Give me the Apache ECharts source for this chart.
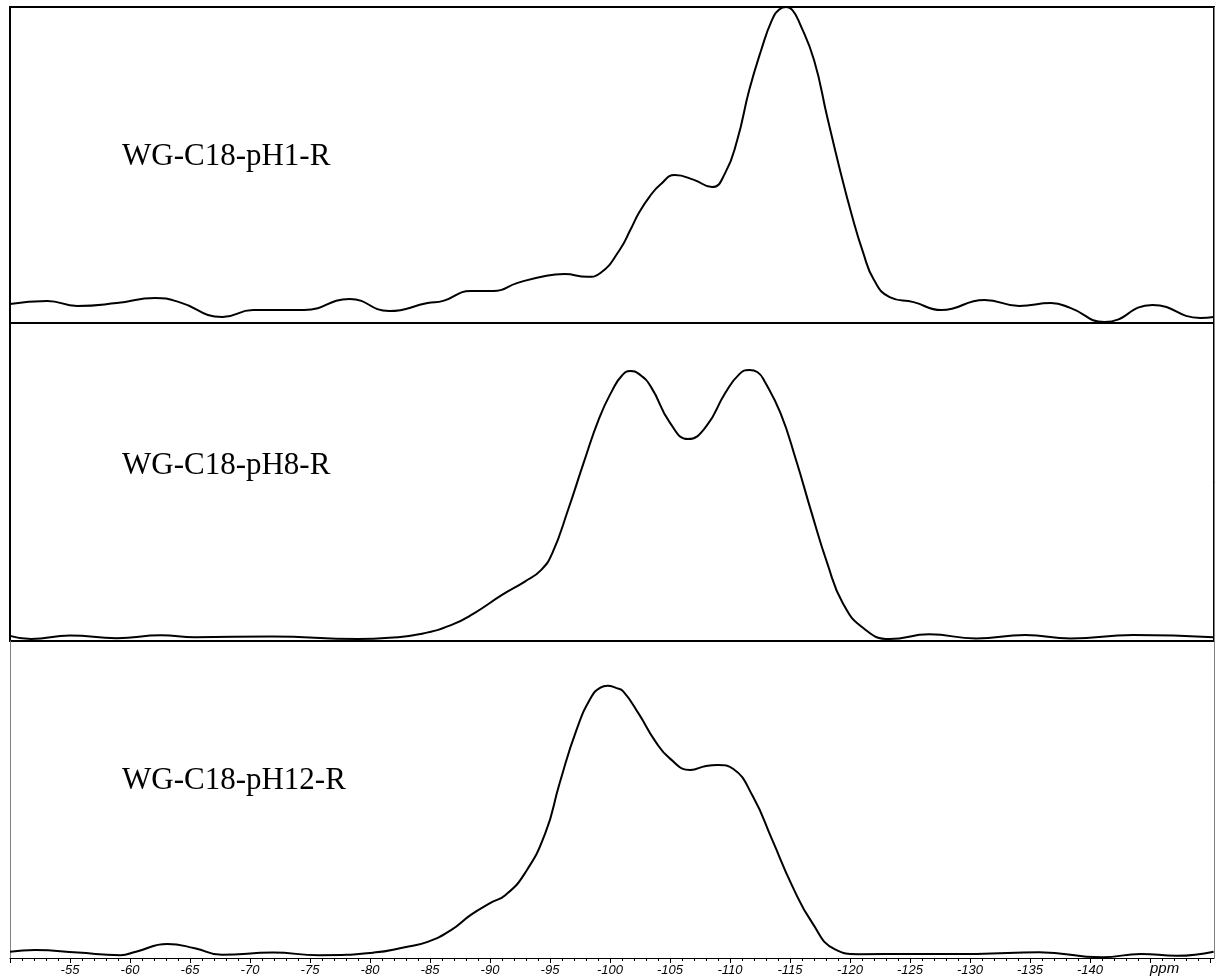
<!DOCTYPE html>
<html><head><meta charset="utf-8">
<script src="https://cdn.jsdelivr.net/npm/echarts@6/dist/echarts.min.js"></script>
<style>html,body{margin:0;padding:0;background:#fff}#c{width:1215px;height:978px}</style>
</head><body><div id="c"></div>
<script>
// ---------------- data ----------------
const sampleNames = ['WG-C18-pH1-R', 'WG-C18-pH8-R', 'WG-C18-pH12-R'];
const axisUnit = 'ppm';
const tickLabels = ['-55','-60','-65','-70','-75','-80','-85','-90','-95','-100','-105','-110','-115','-120','-125','-130','-135','-140'];
const majorTicks = [-50,-55,-60,-65,-70,-75,-80,-85,-90,-95,-100,-105,-110,-115,-120,-125,-130,-135,-140,-145,-150];
const minorTicks = [-50,-51,-52,-53,-54,-55,-56,-57,-58,-59,-60,-61,-62,-63,-64,-65,-66,-67,-68,-69,-70,-71,-72,-73,-74,-75,-76,-77,-78,-79,-80,-81,-82,-83,-84,-85,-86,-87,-88,-89,-90,-91,-92,-93,-94,-95,-96,-97,-98,-99,-100,-101,-102,-103,-104,-105,-106,-107,-108,-109,-110,-111,-112,-113,-114,-115,-116,-117,-118,-119,-120,-121,-122,-123,-124,-125,-126,-127,-128,-129,-130,-131,-132,-133,-134,-135,-136,-137,-138,-139,-140,-141,-142,-143,-144,-145,-146,-147,-148,-149,-150];

const pH1Ppm = [-50, -53.1, -55.6, -58.9, -62.1, -64.1, -67.7, -70.25, -74.5, -78.3, -81.6, -84.8, -86.1, -88.4, -90.3, -92.3, -94.6, -96.2, -98.1, -99.2, -100.8, -101.7, -102.4, -103.3, -104.2, -105.4, -107, -108.5, -109.6, -110.6, -111.6, -112.6, -113.5, -114.1, -114.7, -115.2, -115.8, -117, -118.1, -119.1, -120.1, -121.1, -122, -123.3, -125.3, -127.6, -131.2, -134.1, -136.75, -138.4, -141.2, -145.2, -149.2, -150.3];
const pH1Int = [6.0, 7.0, 5.4, 6.3, 7.9, 6.6, 1.9, 4.1, 4.1, 7.6, 3.8, 6.3, 7.0, 10.1, 10.1, 12.7, 14.9, 15.5, 14.6, 15.8, 23.1, 29.5, 34.8, 40.0, 43.8, 46.8, 45.3, 43.0, 47.5, 57.9, 73.7, 86.4, 95.9, 99.2, 100, 99.0, 94.9, 83.2, 65.2, 49.4, 34.8, 22.2, 13.6, 8.2, 6.6, 4.1, 7.3, 5.4, 6.3, 4.7, 0.3, 5.7, 1.6, 1.9];

const pH8Ppm = [-50, -51.75, -55, -58.9, -62.6, -65.4, -71.8, -79, -81.6, -84.2, -86.75, -88.7, -91, -92.9, -94.25, -95.2, -96.5, -97.8, -99.1, -100.2, -101, -101.7, -102.4, -103.4, -105, -106.5, -108, -109.6, -110.8, -111.6, -112.3, -112.9, -114.2, -115.5, -116.8, -118.1, -119.4, -121.1, -123.3, -126.6, -130.5, -134.6, -138.4, -143.6, -150.3];
const pH8Int = [1.6, 0.6, 1.7, 0.9, 1.8, 1.2, 1.4, 0.6, 1.0, 2.2, 5.0, 8.8, 14.5, 18.7, 22.3, 27.7, 41.2, 56.0, 70.1, 78.9, 83.5, 84.9, 84.0, 80.0, 68.6, 63.5, 67.4, 78.0, 84.0, 85.2, 84.5, 81.5, 71.7, 56.9, 40.3, 24.5, 11.9, 4.1, 0.6, 2.1, 0.8, 1.9, 0.8, 1.9, 1.2];

const pH12Ppm = [-50, -52.1, -55.65, -59.2, -60.5, -63.1, -65.4, -67.65, -71.9, -75.75, -80.3, -82.9, -84.8, -86.75, -88.4, -90, -91.3, -92.9, -94.6, -95.8, -97.2, -98.45, -99.2, -99.8, -100.5, -101.1, -102.4, -103.75, -105, -106.7, -108, -109, -110.25, -111.9, -113.5, -115.2, -116.8, -118.75, -120.7, -125.3, -130.5, -135.75, -141, -144.25, -147.2, -150.3];
const pH12Int = [2.0, 2.5, 1.7, 0.9, 2.0, 4.4, 3.1, 1.0, 1.7, 0.9, 1.7, 3.4, 5.1, 8.8, 13.6, 17.3, 19.9, 26.7, 39.3, 55.1, 71.9, 82.4, 85.3, 85.9, 85.2, 84.1, 77.0, 68.5, 62.9, 59.3, 60.6, 60.9, 59.7, 51.0, 37.4, 22.6, 11.4, 2.7, 1.2, 1.3, 1.3, 1.8, 0.2, 1.3, 0.7, 2.0];

// ---------------- chart ----------------
const zip = (a, b) => a.map((v, i) => [v, b[i]]);
const spectra = [zip(pH1Ppm, pH1Int), zip(pH8Ppm, pH8Int), zip(pH12Ppm, pH12Int)];

const X_MIN = -150.33, X_MAX = -50;
// panel rectangles; the 4th grid overlaps the 3rd and only carries the minor ticks
const panels = [{ top: 7, height: 316 }, { top: 323, height: 318 }, { top: 641, height: 317 }, { top: 641, height: 317 }];
const labelY = [157, 466, 781];

const grids = panels.map((p, i) => ({
  left: 10, right: 1, top: p.top, height: p.height,
  show: i < 2, borderColor: '#000', borderWidth: 2, backgroundColor: 'transparent'
}));

const xAxes = panels.map((p, i) => ({
  type: 'value', gridIndex: i, min: X_MIN, max: X_MAX, inverse: true,
  show: i >= 2, position: 'bottom',
  axisLine: { show: i === 2, onZero: false, lineStyle: { color: '#000', width: 1 } },
  axisTick: {
    show: true, length: i === 2 ? 5 : 3, lineStyle: { color: '#000', width: 1 },
    customValues: i === 3 ? minorTicks : majorTicks
  },
  splitLine: { show: false },
  axisLabel: {
    show: i === 2, margin: 6, fontFamily: 'Liberation Sans', fontStyle: 'italic', fontSize: 13, color: '#000',
    customValues: tickLabels.map(Number), formatter: v => String(v)
  }
}));

const yAxes = panels.map((p, i) => ({
  type: 'value', gridIndex: i, min: 0, max: 100,
  show: i === 2,
  axisLine: { show: true, lineStyle: { color: '#808080', width: 1 } },
  axisTick: { show: false }, axisLabel: { show: false }, splitLine: { show: false }
}));

const series = spectra.map((d, i) => ({
  type: 'line', xAxisIndex: i, yAxisIndex: i, data: d,
  smooth: 0.5, showSymbol: false, symbol: 'none',
  lineStyle: { color: '#000', width: 2 }, silent: true, animation: false
}));

const graphic = [
  ...sampleNames.map((t, i) => ({
    type: 'text', x: 122, y: labelY[i], z: 10,
    style: { text: t, font: '31px "Liberation Serif"', fill: '#000', verticalAlign: 'middle' }
  })),
  { type: 'text', x: 1150, y: 969, z: 10,
    style: { text: axisUnit, font: 'italic 15px "Liberation Sans"', fill: '#000', verticalAlign: 'middle' } },
  { type: 'line', z: 10, shape: { x1: 1214.5, y1: 7, x2: 1214.5, y2: 958 },
    style: { stroke: '#808080', lineWidth: 1 } }
];

const chart = echarts.init(document.getElementById('c'), null, { renderer: 'canvas' });
chart.setOption({
  animation: false, backgroundColor: '#fff',
  grid: grids, xAxis: xAxes, yAxis: yAxes, series: series, graphic: graphic
});
</script></body></html>
